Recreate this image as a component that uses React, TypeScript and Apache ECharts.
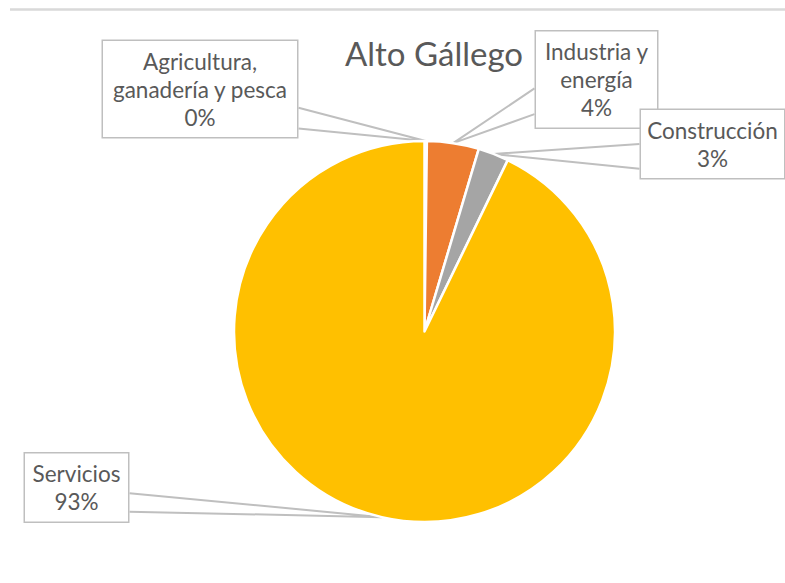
import React, { useEffect, useRef } from "react";
import * as echarts from "echarts";

const title = "Alto Gállego";
const categories = [
  "Agricultura,\nganadería y pesca",
  "Industria y\nenergía",
  "Construcción",
  "Servicios",
];
const shares = [0.2, 4.4, 2.6, 92.8];
const colors = ["#4472C4", "#ED7D31", "#A5A5A5", "#FFC000"];

// label box layout: centre, text width, callout side and base fractions along that side
const labelBoxes = [
  { x: 200, y: 89, w: 178, side: "right", f: [0.69, 0.9] },
  { x: 596.5, y: 79.5, w: 105, side: "left", f: [0.59, 0.85] },
  { x: 712.5, y: 144, w: 127, side: "left", f: [0.5, 0.85] },
  { x: 76.5, y: 487.5, w: 87, side: "right", f: [0.58, 0.84] },
];

const FONT = "Lato, 'Noto Sans', sans-serif";

export default function App() {
  const ref = useRef<HTMLDivElement>(null);
  useEffect(() => {
    if (!ref.current) return;
    const chart = echarts.init(ref.current, undefined, { renderer: "svg" });
    chart.setOption({
      animation: false,
      backgroundColor: "#ffffff",
      title: {
        text: title,
        left: 429,
        top: 31,
        textAlign: "center",
        textStyle: {
          fontFamily: FONT,
          fontSize: 33,
          fontWeight: "normal",
          color: "#595959",
        },
      },
      graphic: [
        {
          type: "line",
          shape: { x1: 10, y1: 9.5, x2: 785, y2: 9.5 },
          style: { stroke: "#D9D9D9", lineWidth: 2.5 },
        },
      ],
      series: [
        {
          type: "pie",
          center: [424.5, 331.5],
          radius: 190.5,
          startAngle: 90,
          clockwise: true,
          avoidLabelOverlap: false,
          itemStyle: { borderColor: "#ffffff", borderWidth: 2.5 },
          data: categories.map((name, i) => ({
            name,
            value: shares[i],
            itemStyle: { color: colors[i] },
            label: { width: labelBoxes[i].w },
          })),
          label: {
            show: true,
            formatter: (p: any) => `${p.name}\n${Math.round(p.percent)}%`,
            fontFamily: FONT,
            fontSize: 22.5,
            lineHeight: 28,
            color: "#595959",
            align: "center",
            overflow: "none",
            backgroundColor: "#ffffff",
            borderColor: "#BFBFBF",
            borderWidth: 1.5,
            padding: [6, 8],
          },
          labelLine: {
            show: true,
            length: 0,
            length2: 0,
            lineStyle: { color: "#BFBFBF", width: 2 },
          },
          labelLayout: (params: any) => {
            const b = labelBoxes[params.dataIndex];
            const r = params.labelRect;
            const left = b.x - r.width / 2;
            const top = b.y - r.height / 2;
            const ex = b.side === "right" ? left + r.width : left;
            const tip = params.labelLinePoints
              ? params.labelLinePoints[0]
              : [b.x, b.y];
            return {
              x: b.x,
              y: b.y,
              align: "center",
              verticalAlign: "middle",
              labelLinePoints: [
                [ex, top + b.f[0] * r.height],
                [tip[0], tip[1]],
                [ex, top + b.f[1] * r.height],
              ],
            };
          },
        },
      ],
    });
    return () => chart.dispose();
  }, []);
  return (
    <div
      ref={ref}
      style={{ position: "fixed", left: 0, top: 0, width: 785, height: 583 }}
    />
  );
}
